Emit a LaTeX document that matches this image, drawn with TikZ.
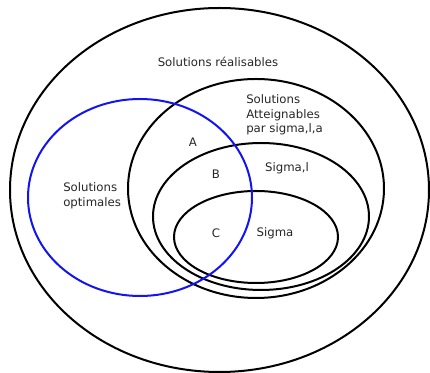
\documentclass[tikz,border=0pt]{standalone}
\usepackage{fontspec}
\setmainfont{DejaVu Sans}
\begin{document}
\begin{tikzpicture}[x=0.75pt,y=-0.75pt,
  set/.style={line width=1.5pt,black},
  optset/.style={line width=1.5pt,color={rgb,255:red,20;green,20;blue,240}},
  lbl/.style={font=\fontsize{8.8pt}{11pt}\selectfont,text=black!85,inner sep=0pt},
  lbll/.style={lbl,align=left}]
\useasboundingbox (0,0) rectangle (430,373);
\draw[set] (219.5,190) ellipse [x radius=209.5, y radius=182];
\draw[set] (256,188.5) ellipse [x radius=128, y radius=109.5];
\draw[set] (261,216.5) ellipse [x radius=108, y radius=73.5];
\draw[set] (256,237) ellipse [x radius=82, y radius=46];
\draw[optset] (140,197.5) ellipse [x radius=112, y radius=98.5];
\node[lbl] (real) at (218,62) {Solutions réalisables};
\node[lbll,anchor=west] (att) at (246,115) {Solutions\\Atteignables\\par sigma,l,a};
\node[lbl] (sigl) at (287,168) {Sigma,l};
\node[lbl] (sig) at (275,233) {Sigma};
\node[lbl] (a) at (193,142) {A};
\node[lbl] (b) at (216,174) {B};
\node[lbl] (c) at (216,233) {C};
\node[lbll,anchor=west] (opt) at (63,195.5) {Solutions\\optimales};
\end{tikzpicture}
\end{document}
